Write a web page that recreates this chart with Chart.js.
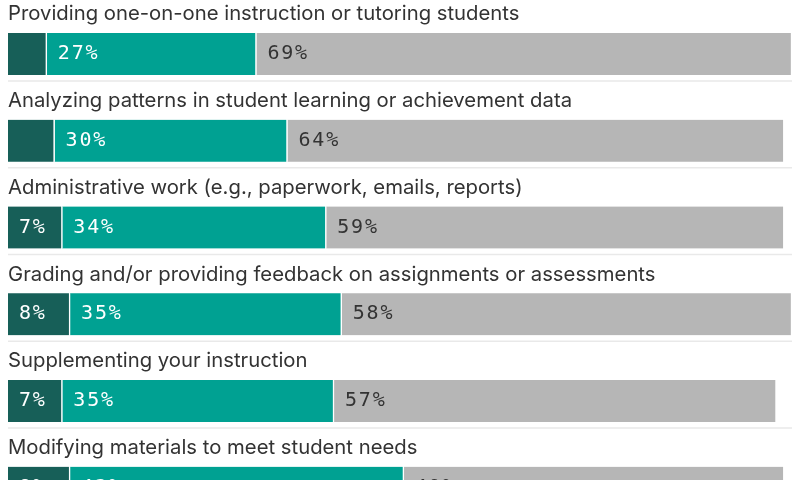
<!DOCTYPE html>
<html>
<head>
<meta charset="utf-8">
<script src="https://cdn.jsdelivr.net/npm/chart.js@4/dist/chart.umd.min.js"></script>
<style>
  html, body { margin: 0; padding: 0; background: #fff; overflow: hidden; }
  #wrap { width: 800px; height: 480px; overflow: hidden; }
</style>
</head>
<body>
<div id="wrap"><canvas id="chart" width="800" height="540"></canvas></div>
<script>
const tasks = [
    'Providing one-on-one instruction or tutoring students',
    'Analyzing patterns in student learning or achievement data',
    'Administrative work (e.g., paperwork, emails, reports)',
    'Grading and/or providing feedback on assignments or assessments',
    'Supplementing your instruction',
    'Modifying materials to meet student needs'
];
const darkValues = [5, 6, 7, 8, 7, 8];
const tealValues = [27, 30, 34, 35, 35, 43];
const grayValues = [69, 64, 59, 58, 57, 49];

const DARK = '#175f58';
const TEAL = '#00a192';
const GRAY = '#b6b6b6';

// titles above each bar + thin rule below it
const rowDecor = {
    id: 'rowDecor',
    afterDatasetsDraw(chart) {
        const ctx = chart.ctx;
        const yScale = chart.scales.y;
        ctx.save();
        tasks.forEach((t, i) => {
            const yc = yScale.getPixelForValue(i);
            ctx.font = '20.3px Inter';
            ctx.fillStyle = '#333';
            ctx.textAlign = 'left';
            ctx.textBaseline = 'alphabetic';
            ctx.fillText(t, 8, yc - 33.5);

            ctx.strokeStyle = '#e9e9e9';
            ctx.lineWidth = 1.5;
            ctx.beginPath();
            ctx.moveTo(8, yc + 27);
            ctx.lineTo(792, yc + 27);
            ctx.stroke();
        });
        ctx.restore();
    }
};

// percent labels at the left of each segment
const segLabels = {
    id: 'segLabels',
    afterDatasetsDraw(chart) {
        const ctx = chart.ctx;
        ctx.save();
        ctx.font = '20px "DejaVu Sans Mono"';
        ctx.letterSpacing = '1.8px';
        ctx.textAlign = 'left';
        ctx.textBaseline = 'middle';
        chart.data.datasets.forEach((ds, di) => {
            const meta = chart.getDatasetMeta(di);
            meta.data.forEach((bar, i) => {
                const v = ds.data[i];
                if (di === 0 && v < 7) return;
                const left = Math.min(bar.x, bar.base);
                ctx.fillStyle = di === 2 ? '#333' : '#fff';
                ctx.fillText(v + '%', left + 11, bar.y);
            });
        });
        ctx.restore();
    }
};

const ctx = document.getElementById('chart').getContext('2d');

const barStyle = {
    barThickness: 42,
    borderColor: '#fff',
    borderWidth: { right: 1.5 },
    borderSkipped: 'start'
};

const myChart = new Chart(ctx, {
    type: 'bar',
    data: {
        labels: tasks,
        datasets: [
            { label: 'A lot', data: darkValues, backgroundColor: DARK, ...barStyle },
            { label: 'Some', data: tealValues, backgroundColor: TEAL, ...barStyle },
            { label: 'Not at all', data: grayValues, backgroundColor: GRAY, ...barStyle }
        ]
    },
    options: {
        indexAxis: 'y',
        responsive: false,
        maintainAspectRatio: false,
        animation: false,
        layout: {
            padding: { left: 8, right: 8, top: 10.6, bottom: 8.9 }
        },
        plugins: {
            legend: { display: false },
            tooltip: { enabled: false }
        },
        scales: {
            x: {
                stacked: true,
                display: false,
                min: 0,
                max: 101
            },
            y: {
                stacked: true,
                display: false
            }
        }
    },
    plugins: [rowDecor, segLabels]
});
</script>
</body>
</html>
